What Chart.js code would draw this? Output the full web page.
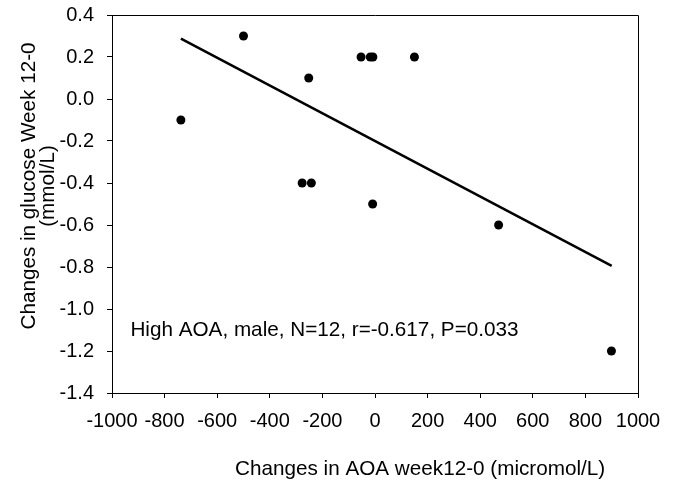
<!DOCTYPE html>
<html>
<head>
<meta charset="utf-8">
<title>AOA vs glucose</title>
<script src="https://cdn.jsdelivr.net/npm/chart.js@4.4.0/dist/chart.umd.min.js"></script>
<style>
    html, body { margin: 0; padding: 0; background: #fff; }
</style>
</head>
<body>
<canvas id="graph" width="673" height="490"></canvas>
<script>
// data
const aoaChange = [-738, -500, -277, -252, -242, -53, -18, -8, -9, 150, 470, 899];
const glucoseChange = [-0.1, 0.3, -0.4, 0.1, -0.4, 0.2, 0.2, 0.2, -0.5, 0.2, -0.6, -1.2];

// regression line end points
const fitX = [-738, 900];
const fitY = [0.287, -0.795];

const xTicks = [-1000, -800, -600, -400, -200, 0, 200, 400, 600, 800, 1000];
const yTicks = [0.4, 0.2, 0.0, -0.2, -0.4, -0.6, -0.8, -1.0, -1.2, -1.4];

const xTitle = 'Changes in AOA week12-0 (micromol/L)';
const yTitle = ['Changes in glucose Week 12-0', '(mmol/L)'];
const note = 'High AOA, male, N=12, r=-0.617, P=0.033';
const noteAt = [-930, -1.13];

const FONT_FAMILY = '"Liberation Sans", Arial, sans-serif';
const TICK_SIZE = 20;
const TEXT_SIZE = 20.7;

Chart.defaults.color = '#000';
Chart.defaults.font.family = FONT_FAMILY;
Chart.defaults.font.size = TICK_SIZE;

// frame on top/right, axis titles and the stats note
const textPlugin = {
    id: 'textPlugin',
    afterDraw(chart) {
        const ctx = chart.ctx;
        const a = chart.chartArea;
        const sx = chart.scales.x, sy = chart.scales.y;
        ctx.save();
        ctx.strokeStyle = '#000';
        ctx.lineWidth = 1;
        ctx.beginPath();
        ctx.moveTo(a.left, Math.round(a.top) + 0.5);
        ctx.lineTo(Math.round(a.right) + 0.5, Math.round(a.top) + 0.5);
        ctx.lineTo(Math.round(a.right) + 0.5, a.bottom);
        ctx.stroke();

        ctx.fillStyle = '#000';
        ctx.font = TEXT_SIZE + 'px ' + FONT_FAMILY;

        ctx.textAlign = 'left';
        ctx.textBaseline = 'alphabetic';
        ctx.fillText(note, sx.getPixelForValue(noteAt[0]), sy.getPixelForValue(noteAt[1]));

        ctx.textAlign = 'left';
        ctx.textBaseline = 'middle';
        ctx.fillText(xTitle, 235, 469);

        ctx.textAlign = 'center';
        ctx.translate(0, 186);
        ctx.rotate(-Math.PI / 2);
        ctx.fillText(yTitle[0], 0, 29);
        ctx.fillText(yTitle[1], 0, 48);
        ctx.restore();
    }
};

const graph = document.getElementById('graph').getContext('2d');
const chart = new Chart(graph, {
    type: 'scatter',
    data: {
        datasets: [{
            label: 'fit',
            data: fitX.map((x, i) => ({ x: x, y: fitY[i] })),
            showLine: true,
            borderColor: '#000',
            borderWidth: 2.5,
            pointRadius: 0,
            fill: false
        }, {
            label: 'subjects',
            data: aoaChange.map((x, i) => ({ x: x, y: glucoseChange[i] })),
            backgroundColor: '#000',
            borderWidth: 0,
            pointRadius: 4.5,
            pointHoverRadius: 4.5
        }]
    },
    options: {
        responsive: false,
        animation: false,
        devicePixelRatio: 1,
        layout: { padding: { top: 15, right: 35, left: 0, bottom: 0 } },
        plugins: {
            legend: { display: false },
            tooltip: { enabled: false }
        },
        events: [],
        scales: {
            x: {
                type: 'linear',
                min: -1000,
                max: 1000,
                afterBuildTicks: s => { s.ticks = xTicks.map(v => ({ value: v })); },
                afterFit: s => { s.height = 97; s.paddingLeft = 0; s.paddingRight = 0; },
                border: { display: true, color: '#000', width: 1 },
                grid: { drawOnChartArea: false, tickLength: 5, color: '#000' },
                ticks: { padding: 11, maxRotation: 0, autoSkip: false, callback: v => String(v) }
            },
            y: {
                type: 'linear',
                min: -1.4,
                max: 0.4,
                afterBuildTicks: s => { s.ticks = yTicks.map(v => ({ value: v })); },
                afterFit: s => { s.width = 112; s.paddingTop = 0; s.paddingBottom = 0; },
                border: { display: true, color: '#000', width: 1 },
                grid: { drawOnChartArea: false, tickLength: 5, color: '#000' },
                ticks: { padding: 13, autoSkip: false, callback: v => v.toFixed(1) }
            }
        }
    },
    plugins: [textPlugin]
});
</script>
</body>
</html>
